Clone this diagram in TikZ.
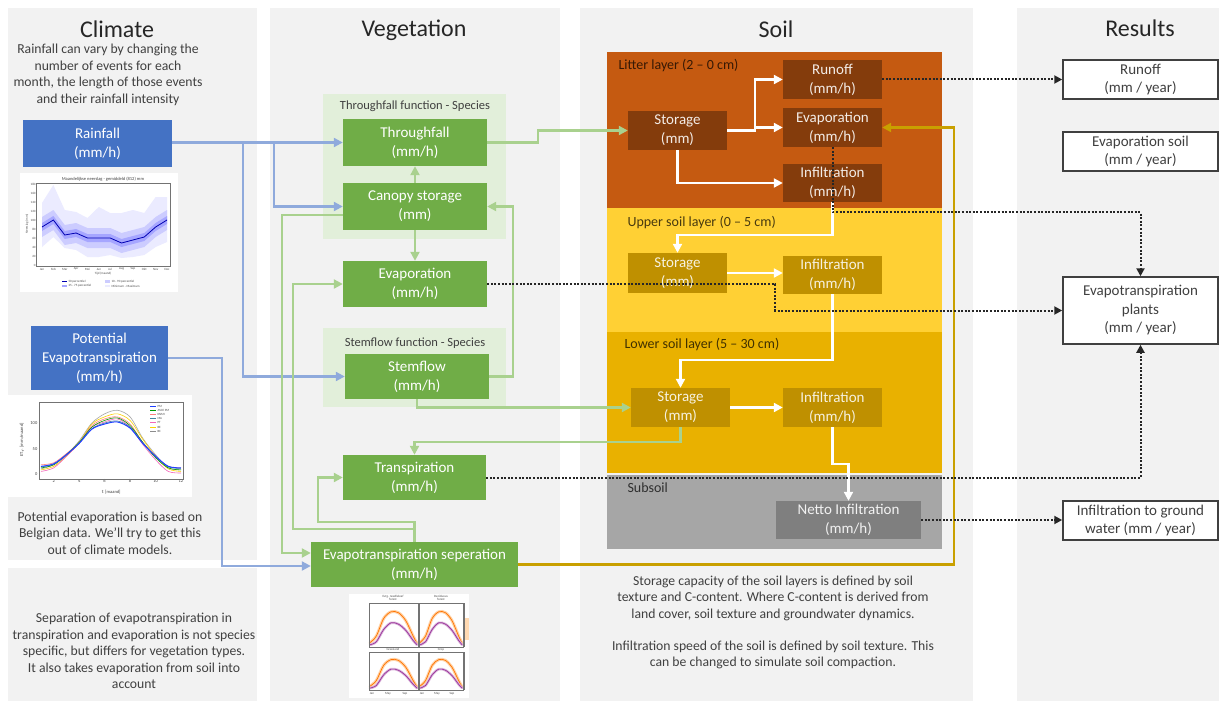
\documentclass[tikz,border=0pt]{standalone}
\usepackage{fontspec}
\setmainfont{Carlito}
\usetikzlibrary{arrows.meta,calc}
\definecolor{cpanel}{HTML}{F2F2F2}
\definecolor{cblue}{HTML}{4472C4}
\definecolor{clblue}{HTML}{8FAADC}
\definecolor{cgreen}{HTML}{70AD47}
\definecolor{clgreen}{HTML}{A9D18E}
\definecolor{cgroup}{HTML}{E2EFDA}
\definecolor{clitter}{HTML}{C55A11}
\definecolor{cbrown}{HTML}{843C0C}
\definecolor{cupper}{HTML}{FFD034}
\definecolor{clower}{HTML}{E9B100}
\definecolor{cgoldbox}{HTML}{BF9000}
\definecolor{cgoldline}{HTML}{C9A000}
\definecolor{csub}{HTML}{A6A6A6}
\definecolor{cnet}{HTML}{7F7F7F}
\definecolor{cdark}{HTML}{404040}
\definecolor{ctitle}{HTML}{262626}
\definecolor{cdot}{HTML}{262626}
\definecolor{pmblue}{HTML}{2040FF}
\newcommand\FTitle{\fontsize{24}{28}\selectfont}
\newcommand\FBody{\fontsize{13.7}{16.5}\selectfont}
\newcommand\FBox{\fontsize{15}{19}\selectfont}
\newcommand\FRes{\fontsize{15}{18.5}\selectfont}
\newcommand\FGroup{\fontsize{12.5}{14}\selectfont}
\newcommand\FLayer{\fontsize{14}{16}\selectfont}
\newcommand\FTiny{\fontsize{4.5}{5}\selectfont}
\newcommand\FMicro{\fontsize{3.2}{3.6}\selectfont}
\newcommand\EtSub[4]{%
\begin{scope}[shift={(#1,#2)}, x=#3pt, y=#4pt]
\draw[orange!35, line width=3pt, line cap=round] plot[smooth] coordinates {(0.02,0.1) (0.15,0.25) (0.3,0.65) (0.45,0.8) (0.6,0.78) (0.75,0.6) (0.9,0.25) (0.98,0.08)};
\draw[orange!90!red, line width=0.7pt] plot[smooth] coordinates {(0.02,0.1) (0.15,0.25) (0.3,0.65) (0.45,0.8) (0.6,0.78) (0.75,0.6) (0.9,0.25) (0.98,0.08)};
\draw[violet!30, line width=2.5pt, line cap=round] plot[smooth] coordinates {(0.02,0.05) (0.15,0.12) (0.3,0.4) (0.45,0.55) (0.6,0.52) (0.75,0.38) (0.9,0.15) (0.98,0.05)};
\draw[violet!80, line width=0.7pt] plot[smooth] coordinates {(0.02,0.05) (0.15,0.12) (0.3,0.4) (0.45,0.55) (0.6,0.52) (0.75,0.38) (0.9,0.15) (0.98,0.05)};
\end{scope}}
\tikzset{
  base/.style={align=center, inner sep=0pt},
  sz/.style 2 args={minimum width=#1pt, minimum height=#2pt},
  bbox/.style={base, fill=cblue, text=white, font=\FBox},
  gbox/.style={base, fill=cgreen, text=white, font=\FBox},
  lbox/.style={base, fill=cbrown, text=white!90!cbrown, font=\FBox},
  ybox/.style={base, fill=cgoldbox, text=white!88!cgoldbox, font=\FBox},
  nbox/.style={base, fill=cnet, text=white!90!cnet, font=\FBox},
  rbox/.style={base, fill=white, draw=cdark, line width=1.5pt, text=cdark, font=\FRes},
  title/.style={text=ctitle, font=\FTitle},
  body/.style={align=center, text=cdark, font=\FBody},
  glabel/.style={text=cdark, font=\FGroup},
  llabel/.style={anchor=west, text=black, text opacity=0.72, font=\FLayer},
  bline/.style={draw=clblue, line width=2.2pt, -{Triangle[length=9pt,width=9pt]}},
  gline/.style={draw=clgreen, line width=2.2pt, -{Triangle[length=9pt,width=9pt]}},
  wline/.style={draw=white, line width=2.2pt, -{Triangle[length=9pt,width=9pt]}},
  oline/.style={draw=cgoldline, line width=2.2pt, -{Triangle[length=9pt,width=9pt]}},
  dline/.style={draw=cdot, line width=2pt, dash pattern=on 2pt off 1.6pt, -{Triangle[length=8pt,width=8pt]}},
  axis/.style={draw=black!55, line width=0.4pt},
  tiny/.style={font=\FTiny, text=black!75, inner sep=0.5pt},
  micro/.style={font=\FMicro, text=black!70, inner sep=0.3pt},
}
\begin{document}
\begin{tikzpicture}[x=1pt,y=-1pt]
\useasboundingbox (0,0) rectangle (1219,701);
\fill[white] (0,0) rectangle (1219,701);
% ---------- panels ----------
\fill[cpanel] (8,8) rectangle (257,560);
\fill[cpanel] (8,568) rectangle (257,701);
\fill[cpanel] (270,8) rectangle (560,701);
\fill[cpanel] (580,8) rectangle (973,701);
\fill[cpanel] (1017,8) rectangle (1219,701);
% ---------- titles ----------
\node[title] (tclim) at (117,29) {Climate};
\node[title] (tveg) at (414,30) {Vegetation};
\node[title] (tsoil) at (776,29) {Soil};
\node[title] (tres) at (1140,28) {Results};
% ---------- climate texts ----------
\node[body] (txclim) at (108,75) {Rainfall can vary by changing the\\number of events for each\\month, the length of those events\\and their rainfall intensity};
\node[body] (txpet) at (110,533) {Potential evaporation is based on\\Belgian data. We’ll try to get this\\out of climate models.};
\node[body] (txsep) at (134,651) {Separation of evapotranspiration in\\transpiration and evaporation is not species\\specific, but differs for vegetation types.\\It also takes evaporation from soil into\\account};
% ---------- rainfall chart ----------
\fill[white] (20,173) rectangle (178,292);
\node[tiny] (rct) at (103,179) {Maandelijkse neerslag - gemiddeld (812) mm};
\begin{scope}[shift={(42,0)}, x=11.364pt]
\fill[blue!8] (0,203)--(1,185)--(2,210)--(3,212)--(4,218)--(5,207)--(6,213)--(7,213)--(8,210)--(9,213)--(10,197)--(11,197)--(11,242)--(10,247)--(9,255)--(8,257)--(7,258)--(6,255)--(5,257)--(4,257)--(3,250)--(2,248)--(1,237)--(0,247)--cycle;
\fill[blue!20] (0,217)--(1,210)--(2,225)--(3,223)--(4,228)--(5,228)--(6,228)--(7,233)--(8,230)--(9,227)--(10,217)--(11,210)--(11,230)--(10,237)--(9,247)--(8,250)--(7,253)--(6,248)--(5,248)--(4,248)--(3,243)--(2,245)--(1,230)--(0,237)--cycle;
\fill[blue!35] (0,223)--(1,216)--(2,231)--(3,229)--(4,234)--(5,234)--(6,234)--(7,239)--(8,236)--(9,233)--(10,223)--(11,216)--(11,224)--(10,231)--(9,241)--(8,244)--(7,247)--(6,242)--(5,242)--(4,242)--(3,237)--(2,239)--(1,224)--(0,231)--cycle;
\draw[blue!70!black, line width=0.8pt] (0,227)--(1,220)--(2,235)--(3,233)--(4,238)--(5,238)--(6,238)--(7,243)--(8,240)--(9,237)--(10,227)--(11,220);
\foreach \m [count=\i from 0] in {Jan,Feb,Mar,Apr,Mei,Jun,Jul,Aug,Sep,Okt,Nov,Dec}
  \node[micro] at (\i,269) {\m};
\end{scope}
\draw[axis] (36,183) rectangle (170,266);
\foreach \v in {0,20,...,180}
  \node[micro, anchor=east] at (36,{265-\v*0.45}) {\v};
\node[micro, rotate=90] (rcy) at (27,224) {Neerslag (mm)};
\node[micro] (rcx) at (103,274) {Tijd (maand)};
\fill[blue!70!black] (62,281) rectangle (67,282);
\node[micro, anchor=west] at (68,281.5) {50 percentiel};
\fill[blue!35] (62,285) rectangle (67,287);
\node[micro, anchor=west] at (68,286) {25 - 75 percentiel};
\fill[blue!20] (105,280) rectangle (110,283);
\node[micro, anchor=west] at (111,281.5) {10 - 90 percentiel};
\fill[blue!8] (105,285) rectangle (110,287);
\node[micro, anchor=west] at (111,286) {Minimum - Maximum};
% ---------- PET chart ----------
\fill[white] (8,395) rectangle (192,497);
\begin{scope}[shift={(41,474)}, x=12.727pt, y=0.51pt]
\draw[black!35, line width=0.6pt] plot[smooth] coordinates {(0,10) (1,18) (2,38) (3,65) (4,100) (5,118) (6,125) (7,112) (8,70) (9,38) (10,12) (11,8)};
\draw[yellow!70!orange, line width=0.6pt] plot[smooth] coordinates {(0,8) (1,15) (2,35) (3,62) (4,98) (5,112) (6,118) (7,105) (8,68) (9,35) (10,10) (11,5)};
\draw[red!50, line width=0.6pt] plot[smooth] coordinates {(0,18) (1,22) (2,40) (3,62) (4,95) (5,108) (6,112) (7,98) (8,62) (9,35) (10,15) (11,12)};
\draw[magenta!60, line width=0.6pt] plot[smooth] coordinates {(0,5) (1,12) (2,35) (3,60) (4,92) (5,102) (6,108) (7,92) (8,58) (9,28) (10,5) (11,2)};
\draw[green!60!black, line width=0.6pt] plot[smooth] coordinates {(0,12) (1,18) (2,38) (3,62) (4,92) (5,105) (6,110) (7,95) (8,62) (9,32) (10,12) (11,8)};
\draw[cyan!60!black, line width=0.6pt] plot[smooth] coordinates {(0,14) (1,19) (2,37) (3,61) (4,89) (5,100) (6,104) (7,92) (8,61) (9,34) (10,14) (11,11)};
\draw[pmblue, line width=1pt] plot[smooth] coordinates {(0,15) (1,20) (2,38) (3,60) (4,88) (5,98) (6,102) (7,90) (8,60) (9,35) (10,15) (11,12)};
\foreach \t in {2,4,...,12}
  \node[tiny, anchor=north] at ({\t-1},-9) {\t};
\end{scope}
\draw[axis] (39,402) rectangle (183,479);
\node[tiny, anchor=east] at (38,474) {0};
\node[tiny, anchor=east] at (38,449) {50};
\node[tiny, anchor=east] at (38,423) {100};
\node[tiny] (petx) at (111,492) {$t$ [maand]};
\node[tiny, rotate=90] (pety) at (22,440) {ET$_r$ [mm/maand]};
\foreach \c/\l [count=\k from 0] in {pmblue/PM,green!60!black/ASCE PM,red!50/KNMI,cyan!60!black/MA,magenta!60/PT,yellow!70!orange/BE,black!45/BC}{
  \draw[\c, line width=0.8pt] (150,{406+4.2*\k}) -- (156,{406+4.2*\k});
  \node[micro, anchor=west] at (157,{406+4.2*\k}) {\l};
}
% ---------- vegetation groups ----------
\fill[cgroup] (323,94) rectangle (506,239);
\fill[cgroup] (323,328) rectangle (506,407);
\node[glabel] (gtf) at (415,106) {Throughfall function - Species};
\node[glabel] (gsf) at (415,343) {Stemflow function - Species};
% ---------- ET chart ----------
\fill[white] (349,594) rectangle (469,698);
\EtSub{369}{647}{49}{44}
\EtSub{419}{647}{44}{44}
\EtSub{369}{690}{49}{38}
\EtSub{419}{690}{44}{38}
\fill[orange!30] (464,618) rectangle (469,640);
\draw[axis] (369,603) rectangle (418,647);
\draw[axis] (419,603) rectangle (463,647);
\draw[axis] (369,652) rectangle (418,690);
\draw[axis] (419,652) rectangle (463,690);
\draw[axis] (464,603) -- (464,647) (464,652) -- (464,690);
\node[micro, align=center] (et1) at (393,598) {Evrg. needleleaf\\forest};
\node[micro, align=center] (et2) at (441,598) {Deciduous\\forest};
\node[micro] (et3) at (393,649.5) {Grassland};
\node[micro] (et4) at (441,649.5) {Crop};
\foreach \xx/\l in {372/Jan,388/May,405/Sep,422/Jan,437/May,452/Sep}{
  \node[micro] at (\xx,693.5) {\l};}
% ---------- soil layers ----------
\fill[clitter] (607,52) rectangle (942,208);
\fill[cupper] (607,208) rectangle (942,332);
\fill[clower] (607,332) rectangle (942,473);
\fill[csub] (607,475) rectangle (942,549);
\node[llabel] (lab1) at (615,66) {Litter layer (2 – 0 cm)};
\node[llabel] (lab2) at (624,223) {Upper soil layer (0 – 5 cm)};
\node[llabel] (lab3) at (621,345) {Lower soil layer (5 – 30 cm)};
\node[llabel] (lab4) at (624,488) {Subsoil};
\node[body] (txs1) at (773,598) {Storage capacity of the soil layers is defined by soil\\texture and C-content. Where C-content is derived from\\land cover, soil texture and groundwater dynamics.};
\node[body] (txs2) at (773,655) {Infiltration speed of the soil is defined by soil texture. This\\can be changed to simulate soil compaction.};
% ---------- nodes ----------
\node[bbox, sz={149}{47}] (rain) at (97.5,143.5) {Rainfall\\(mm/h)};
\node[bbox, sz={137}{64}] (pet) at (99.5,358) {Potential\\Evapotranspiration\\(mm/h)};
\node[gbox, sz={144}{47}] (tf) at (415,142.5) {Throughfall\\(mm/h)};
\node[gbox, sz={144}{47}] (cs) at (415,206.5) {Canopy storage\\(mm)};
\node[gbox, sz={144}{46}] (ev) at (415,284) {Evaporation\\(mm/h)};
\node[gbox, sz={144}{45}] (sf) at (417,376.5) {Stemflow\\(mm/h)};
\node[gbox, sz={143}{45}] (tr) at (414.5,477.5) {Transpiration\\(mm/h)};
\node[gbox, sz={207}{45}] (ets) at (414.5,564.5) {Evapotranspiration seperation\\(mm/h)};
\node[lbox, sz={99}{39}] (lst) at (677.5,130.5) {Storage\\(mm)};
\node[lbox, sz={99}{39}] (lro) at (832.5,79.5) {Runoff\\(mm/h)};
\node[lbox, sz={99}{39}] (lev) at (832.5,127.5) {Evaporation\\(mm/h)};
\node[lbox, sz={99}{38}] (lin) at (832.5,183) {Infiltration\\(mm/h)};
\node[ybox, sz={99}{40}] (ust) at (677.5,273) {Storage\\(mm)};
\node[ybox, sz={99}{38}] (uin) at (832.5,275) {Infiltration\\(mm/h)};
\node[ybox, sz={99}{39}] (wst) at (680.5,407.5) {Storage\\(mm)};
\node[ybox, sz={99}{39}] (win) at (832.5,407.5) {Infiltration\\(mm/h)};
\node[nbox, sz={145}{38}] (net) at (848.5,520) {Netto Infiltration\\(mm/h)};
\node[rbox, sz={155}{39}] (rro) at (1140.5,79.5) {Runoff\\(mm / year)};
\node[rbox, sz={155}{39}] (rev) at (1140.5,151.5) {Evaporation soil\\(mm / year)};
\node[rbox, sz={155}{67}] (ret) at (1140.5,310.5) {Evapotranspiration\\plants\\(mm / year)};
\node[rbox, sz={155}{39}] (rgw) at (1140.5,520.5) {Infiltration to ground\\water (mm / year)};
% ---------- junction coordinates ----------
\coordinate (jb1) at (243,142.5);
\coordinate (jb2) at (274,142.5);
\coordinate (jg1) at (293,529);
\coordinate (jg2) at (318,522);
% ---------- blue connectors ----------
\draw[bline] (rain.east |- tf.west) -- (tf.west);
\draw[bline] (jb1) |- (sf.west);
\draw[bline] (jb2) |- (cs.west);
\draw[bline] (pet.east) -- ++(54,0) |- ($(ets.west)+(0,1.5)$);
% ---------- green connectors ----------
\draw[gline] (tf.east) -- ++(51,0) |- (lst.west);
\draw[gline] (cs.north) -- (tf.south);
\draw[gline] (cs.south) -- (ev.north);
\draw[gline] (sf.east) -- ++(24,0) |- (cs.east);
\draw[gline] (sf.south) |- (wst.west);
\draw[gline] (wst.south) -- ++(0,15) -| (tr.north);
\draw[gline] ($(cs.west)+(0,8.5)$) -- ++(-61,0) |- ($(ets.west)+(0,-11.5)$);
\draw[gline] (ets.north) |- (jg1) |- (ev.west);
\draw[gline] (ets.north) |- (jg2) |- (tr.west);
% ---------- gold connector ----------
\draw[oline] (ets.east) -- (954,564.5) |- (lev.east);
% ---------- white connectors ----------
\draw[wline] (lst.east) -- ++(28,0) |- (lev.west);
\draw[wline] ($(lst.east)+(28,0)$) |- (lro.west);
\draw[wline] (lst.south) |- (lin.west);
\draw[wline] (lin.south) -- ++(0,33) -| (ust.north);
\draw[wline] (ust.east) -- (ust.east -| uin.west);
\draw[wline] (uin.south) -- ++(0,66) -| (wst.north);
\draw[wline] (wst.east) -- (win.west);
\draw[wline] (win.south) -- ++(0,37) -| (net.north);
% ---------- dotted connectors ----------
\draw[dline] (lro.east) -- (lro.east -| rro.west);
\draw[dline] (lev.south) -- ++(0,65) -| (ret.north);
\draw[dline] (ev.east) -- ++(288,0) |- (ret.west);
\draw[dline] (tr.east) -| (ret.south);
\draw[dline] (net.east) -- (net.east -| rgw.west);
\end{tikzpicture}
\end{document}
